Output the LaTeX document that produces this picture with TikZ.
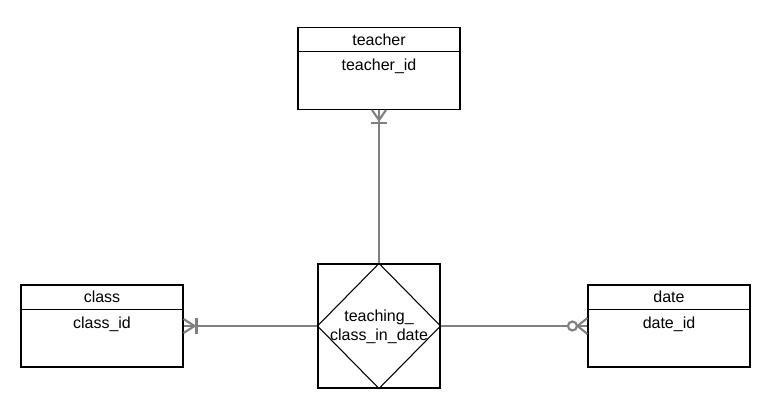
\documentclass[tikz,border=0pt]{standalone}
\usepackage{fontspec}
\setmainfont{Liberation Sans}
\usetikzlibrary{calc}
\begin{document}
\begin{tikzpicture}[x=0.75pt,y=-0.75pt,
  entity/.style={draw=black,line width=0.8pt,minimum width=162*0.75pt,minimum height=82*0.75pt,inner sep=0pt},
  relbox/.style={draw=black,line width=0.8pt,minimum width=122*0.75pt,minimum height=124*0.75pt,inner sep=0pt},
  lbl/.style={font=\fontsize{12}{13.5}\selectfont,inner sep=0pt,anchor=base},
  conn/.style={draw=black!50,line width=1.6pt},
  edge/.style={draw=black,line width=0.8pt}]
\useasboundingbox (0,0) rectangle (772,417);

% entities
\node[entity] (teacher) at (379,68.5) {};
\node[entity] (class) at (102,326) {};
\node[entity] (date) at (669,326) {};
\node[relbox] (rel) at (379,326) {};

% header separators
\draw[edge] ($(teacher.north west)+(0,25)$) -- ($(teacher.north east)+(0,25)$);
\draw[edge] ($(class.north west)+(0,25)$) -- ($(class.north east)+(0,25)$);
\draw[edge] ($(date.north west)+(0,25)$) -- ($(date.north east)+(0,25)$);

% labels
\node[lbl] (tname) at ($(teacher.north)+(0,18.5)$) {teacher};
\node[lbl] (tid) at ($(teacher.north)+(0,44)$) {teacher\_id};
\node[lbl] (cname) at ($(class.north)+(0,18.5)$) {class};
\node[lbl] (cid) at ($(class.north)+(0,44)$) {class\_id};
\node[lbl] (dname) at ($(date.north)+(0,18.5)$) {date};
\node[lbl] (did) at ($(date.north)+(0,44)$) {date\_id};

% diamond
\draw[edge] (rel.north) -- (rel.east) -- (rel.south) -- (rel.west) -- cycle;
\node[lbl] (r1) at ($(rel.center)+(0,-4)$) {teaching\_};
\node[lbl] (r2) at ($(rel.center)+(0,14)$) {class\_in\_date};

% connectors
\draw[conn] (teacher.south) -- (rel.north);
\draw[conn] (class.east) -- (rel.west);
\draw[conn] (rel.east) -- (date.west);

% teacher end: one-or-many
\draw[conn] ($(teacher.south)+(-7,0)$) -- ($(teacher.south)+(0,10)$) -- ($(teacher.south)+(7,0)$);
\draw[conn] ($(teacher.south)+(-8,13)$) -- ($(teacher.south)+(8,13)$);

% class end: one-or-many
\draw[conn] ($(class.east)+(0,-7)$) -- ($(class.east)+(11,0)$) -- ($(class.east)+(0,7)$);
\draw[conn] ($(class.east)+(13,-8)$) -- ($(class.east)+(13,8)$);

% date end: zero-or-many
\draw[conn] ($(date.west)+(0,-8)$) -- ($(date.west)+(-10,0)$) -- ($(date.west)+(0,8)$);
\draw[conn,fill=white] ($(date.west)+(-15,0)$) circle[radius=4.5];
\end{tikzpicture}
\end{document}
